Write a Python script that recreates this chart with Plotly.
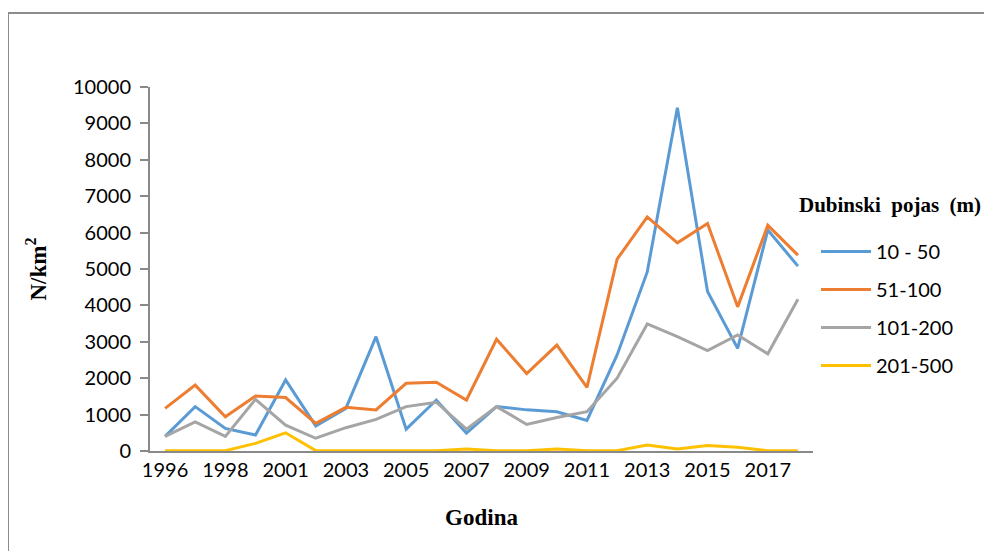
import plotly.graph_objects as go

years = ["1996", "1997", "1998", "2000", "2001", "2002", "2003", "2004", "2005", "2006",
         "2007", "2008", "2009", "2010", "2011", "2012", "2013", "2014", "2015", "2016",
         "2017", "2018"]
tick_years = ["1996", "1998", "2001", "2003", "2005", "2007", "2009", "2011", "2013", "2015", "2017"]
y_ticks = [0, 1000, 2000, 3000, 4000, 5000, 6000, 7000, 8000, 9000, 10000]

s_10_50 = [400, 1220, 620, 440, 1950, 690, 1170, 3140, 600, 1400,
           490, 1220, 1130, 1080, 840, 2640, 4920, 9430, 4380, 2820,
           6070, 5080]
s_51_100 = [1170, 1810, 940, 1510, 1470, 760, 1200, 1130, 1860, 1890,
            1400, 3070, 2130, 2910, 1750, 5270, 6430, 5720, 6250, 3960,
            6200, 5380]
s_101_200 = [400, 800, 400, 1420, 710, 350, 640, 870, 1220, 1340,
             600, 1220, 730, 920, 1080, 2000, 3490, 3140, 2760, 3190,
             2670, 4170]
s_201_500 = [10, 10, 10, 210, 500, 10, 10, 10, 10, 10,
             55, 10, 10, 55, 10, 10, 165, 55, 150, 100,
             10, 10]

series = [("10 - 50", s_10_50, "#5B9BD5"),
          ("51-100", s_51_100, "#ED7D31"),
          ("101-200", s_101_200, "#A5A5A5"),
          ("201-500", s_201_500, "#FFC000")]

fig = go.Figure()
for i, (name, vals, col) in enumerate(series):
    fig.add_trace(go.Scatter(x=years, y=vals, name=name, mode="lines",
                             line=dict(color=col, width=3),
                             legendgroup=f"g{i}"))

L, T, PW, PH = 142, 79, 663, 364
W, H = 992, 551

tick_font = dict(family="Lato, Open Sans, sans-serif", size=20, color="#000")
title_font = dict(family="Liberation Serif, Times New Roman, serif", size=23, color="#000")

def px_x(x):
    return (x - L) / PW

def px_y(y):
    return (T + PH - y) / PH

fig.update_layout(
    width=W, height=H,
    margin=dict(l=L, r=W - L - PW, t=T, b=H - T - PH),
    paper_bgcolor="white", plot_bgcolor="white",
    showlegend=True,
    legend=dict(
        x=px_x(808), y=px_y(224), xanchor="left", yanchor="top",
        font=tick_font,
        tracegroupgap=9,
        traceorder="grouped",
        itemwidth=50,
        bgcolor="rgba(0,0,0,0)",
    ),
    xaxis=dict(
        type="category", categoryorder="array", categoryarray=years,
        range=[-0.5, len(years) - 0.5],
        tickmode="array", tickvals=tick_years, ticktext=tick_years,
        showgrid=False, zeroline=False,
        showline=True, linecolor="#898989", linewidth=2,
        ticks="", tickfont=tick_font,
        title=dict(text="<b>Godina</b>", font=title_font, standoff=29),
    ),
    yaxis=dict(
        range=[0, 10000], tickmode="array", tickvals=y_ticks,
        ticktext=[str(v) for v in y_ticks],
        showgrid=False, zeroline=False,
        showline=True, linecolor="#898989", linewidth=2,
        ticks="outside", ticklen=8, tickcolor="#898989", tickwidth=2,
        tickfont=tick_font, ticklabelstandoff=5,
        title=dict(text="<b>N/km<sup>2</sup></b>", font=title_font, standoff=20),
    ),
    annotations=[dict(text="<b>Dubinski&nbsp;&nbsp;pojas&nbsp;&nbsp;(m)</b>",
                      xref="paper", yref="paper", x=px_x(882), y=px_y(197),
                      xanchor="center", yanchor="middle", showarrow=False,
                      font=dict(family="Liberation Serif, Times New Roman, serif", size=21, color="#000"))],
    shapes=[dict(type="rect", xref="paper", yref="paper",
                 x0=px_x(0), x1=1.4, y0=-0.5, y1=px_y(5),
                 line=dict(color="#8c8c8c", width=2), fillcolor="rgba(0,0,0,0)")],
)

fig.write_html("out.html")
